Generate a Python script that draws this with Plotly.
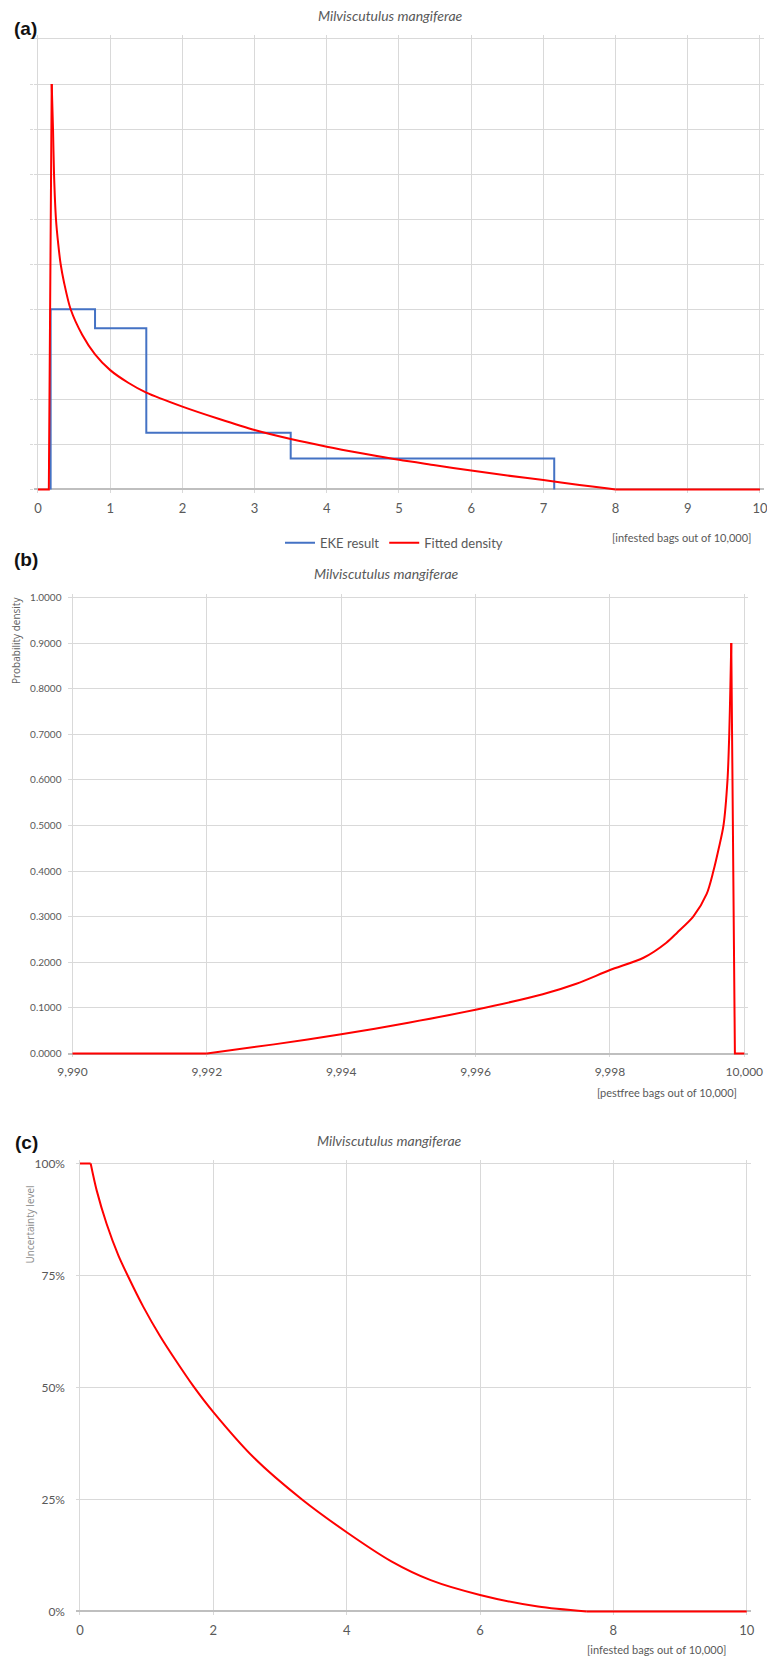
import plotly.graph_objects as go

# ---------------- data ----------------
# (a) fitted density vs infested bags out of 10,000
dens_x = [0, 0.15, 0.19, 0.208, 0.222, 0.249, 0.28, 0.314, 0.36, 0.452, 0.614, 0.79, 1.0,
          1.25, 1.5, 2.0, 2.5, 3.0, 3.5, 4.0, 4.5, 5.0, 5.5, 6.0, 6.5, 7.0, 7.5, 7.9, 8.0, 10]
dens_y = [0, 0, 0.90, 0.80, 0.70, 0.60, 0.545, 0.50, 0.46, 0.40, 0.343, 0.30, 0.265,
          0.237, 0.215, 0.184, 0.157, 0.132, 0.112, 0.095, 0.080, 0.066, 0.054, 0.042, 0.031,
          0.021, 0.010, 0.002, 0, 0]

# (a) EKE result: piecewise-uniform density between elicited quantiles
eke_edges = [0.175, 0.79, 1.5, 3.5, 7.15]
eke_dens = [0.40, 0.358, 0.126, 0.069]

# (b) fitted density vs pestfree bags out of 10,000
pf_x = [9990, 9992, 9993, 9994, 9995, 9996, 9997, 9997.5, 9998, 9998.5, 9998.84, 9999.0,
        9999.24, 9999.44, 9999.54, 9999.62, 9999.69, 9999.75, 9999.776, 9999.792, 9999.806,
        9999.86, 10000]
pf_y = [0, 0, 0.020, 0.042, 0.0675, 0.096, 0.130, 0.153, 0.183, 0.210, 0.243, 0.265,
        0.300, 0.350, 0.400, 0.450, 0.500, 0.600, 0.700, 0.800, 0.900,
        0, 0]

# (c) uncertainty level (exceedance) vs infested bags out of 10,000
unc_x = [0, 0.16, 0.25, 0.40, 0.575, 0.715, 0.95, 1.2, 1.425, 1.70, 2.0, 2.61, 3.33,
         4.0, 4.67, 5.26, 6.0, 6.87, 7.6, 10]
unc_y = [1.0, 1.0, 0.94, 0.865, 0.795, 0.75, 0.68, 0.615, 0.563, 0.503, 0.445, 0.343, 0.25,
         0.177, 0.112, 0.070, 0.037, 0.011, 0.0, 0.0]

title_text = "Milviscutulus mangiferae"
pct_vals = [0, 0.25, 0.5, 0.75, 1.0]
pct_text = ["0%", "25%", "50%", "75%", "100%"]

# ---------------- layout helpers ----------------
W, H = 767, 1656
GRID = "#D9D9D9"
AXL = "#BFBFBF"
TXT = "#595959"
BLUE = "#4472C4"
RED = "#FF0000"
FONT = "Lato"


def xdom(p0, p1, v0, v1, pad):
    s = (p1 - p0) / (v1 - v0)
    return [(p0 - pad * s) / W, (p1 + pad * s) / W], [v0 - pad, v1 + pad]


def ydom(pbot, ptop, v0, v1, pad):
    s = (pbot - ptop) / (v1 - v0)
    return [1 - (pbot + pad * s) / H, 1 - (ptop - pad * s) / H], [v0 - pad, v1 + pad]


fig = go.Figure()


def red_pieces(xs, ys, i0, i1, xa, ya, name, legend):
    """Straight segments before i0 and after i1, smooth curve between."""
    fig.add_trace(go.Scatter(x=xs[:i0 + 1], y=ys[:i0 + 1], mode="lines",
                             line=dict(color=RED, width=2), name=name, legendgroup=name,
                             xaxis=xa, yaxis=ya, showlegend=False))
    fig.add_trace(go.Scatter(x=xs[i0:i1 + 1], y=ys[i0:i1 + 1], mode="lines",
                             line=dict(color=RED, width=2, shape="spline", smoothing=0.8),
                             name=name, legendgroup=name,
                             xaxis=xa, yaxis=ya, showlegend=legend))
    fig.add_trace(go.Scatter(x=xs[i1:], y=ys[i1:], mode="lines",
                             line=dict(color=RED, width=2), name=name, legendgroup=name,
                             xaxis=xa, yaxis=ya, showlegend=False))


# traces (a)
fig.add_trace(go.Scatter(
    x=[eke_edges[0]] + eke_edges, y=[0] + eke_dens + [0],
    mode="lines", line=dict(color=BLUE, width=2, shape="hv"),
    name="EKE result", xaxis="x", yaxis="y", showlegend=True))
red_pieces(dens_x, dens_y, 2, len(dens_x) - 2, "x", "y", "Fitted density", True)
# trace (b)
red_pieces(pf_x, pf_y, 1, len(pf_x) - 3, "x2", "y2", "Fitted density (b)", False)
# trace (c)
red_pieces(unc_x, unc_y, 1, len(unc_x) - 2, "x3", "y3", "Uncertainty", False)

ax_common = dict(showgrid=True, gridcolor=GRID, gridwidth=1, zeroline=False,
                 automargin=False, ticklabeloverflow="allow",
                 tickfont=dict(family=FONT, size=12, color=TXT), fixedrange=True)

xa_dom, xa_rng = xdom(38, 760, 0, 10, 0.06)
ya_dom, ya_rng = ydom(489.5, 39, 0, 1, 0.008)
xb_dom, xb_rng = xdom(72.5, 744.3, 9990, 10000, 0.06)
yb_dom, yb_rng = ydom(1053.5, 597.5, 0, 1, 0.008)
xc_dom, xc_rng = xdom(80, 746.7, 0, 10, 0.06)
yc_dom, yc_rng = ydom(1611.5, 1163.5, 0, 1, 0.008)

fig.update_layout(
    width=W, height=H, autosize=False,
    margin=dict(l=0, r=0, t=0, b=0, pad=0, autoexpand=False),
    paper_bgcolor="white", plot_bgcolor="white",
    font=dict(family=FONT, color=TXT),
    xaxis=dict(ax_common, domain=xa_dom, range=xa_rng, anchor="y",
               tickmode="array", tickvals=list(range(0, 11)), ticks="",
               ticklabelstandoff=6, tickfont=dict(family=FONT, size=13, color=TXT)),
    yaxis=dict(ax_common, domain=ya_dom, range=ya_rng, anchor="x",
               tickmode="linear", tick0=0, dtick=0.1, showticklabels=False,
               ticks="outside", ticklen=3, tickcolor=GRID,
               zeroline=True, zerolinecolor=AXL, zerolinewidth=1.5),
    xaxis2=dict(ax_common, domain=xb_dom, range=xb_rng, anchor="y2",
                tickmode="array", tickvals=[9990, 9992, 9994, 9996, 9998, 10000],
                tickformat=",d", ticks="", ticklabelstandoff=6),
    yaxis2=dict(ax_common, domain=yb_dom, range=yb_rng, anchor="x2",
                tickmode="linear", tick0=0, dtick=0.1, tickformat=".4f", ticks="",
                ticklabelstandoff=6, tickfont=dict(family=FONT, size=10, color=TXT),
                zeroline=True, zerolinecolor=AXL, zerolinewidth=1.5),
    xaxis3=dict(ax_common, domain=xc_dom, range=xc_rng, anchor="y3",
                tickmode="array", tickvals=[0, 2, 4, 6, 8, 10], ticks="",
                ticklabelstandoff=6, tickfont=dict(family=FONT, size=13, color=TXT)),
    yaxis3=dict(ax_common, domain=yc_dom, range=yc_rng, anchor="x3",
                tickmode="array", tickvals=pct_vals, ticktext=pct_text, ticks="",
                ticklabelstandoff=10,
                zeroline=True, zerolinecolor=AXL, zerolinewidth=1.5),
    legend=dict(orientation="h", x=394 / W, xanchor="center", y=1 - 542.7 / H,
                yanchor="middle", font=dict(family=FONT, size=13, color=TXT),
                bgcolor="rgba(0,0,0,0)", itemwidth=30, tracegroupgap=0,
                traceorder="normal"),
    showlegend=True,
)


def ann(text, px, py, size, color=TXT, xanchor="center", italic=False, bold=False,
        angle=0, family=FONT):
    t = text
    if bold:
        t = "<b>" + t + "</b>"
    if italic:
        t = "<i>" + t + "</i>"
    fig.add_annotation(text=t, x=px / W, y=1 - py / H, xref="paper", yref="paper",
                       xanchor=xanchor, yanchor="middle", showarrow=False,
                       textangle=angle,
                       font=dict(family=family, size=size, color=color))


# panel letters
ann("(a)", 25, 28.5, 19, color="#111111", bold=True, family="Liberation Sans")
ann("(b)", 26, 560, 19, color="#111111", bold=True, family="Liberation Sans")
ann("(c)", 26, 1142, 19, color="#111111", bold=True, family="Liberation Sans")

# titles
ann(title_text, 391, 15, 14, italic=True)
ann(title_text, 387, 573, 14, italic=True)
ann(title_text, 389, 1140, 14, italic=True)

# axis unit captions
ann("[infested bags out of 10,000]", 753, 537, 11, xanchor="right")
ann("[pestfree bags out of 10,000]", 739, 1092, 11, xanchor="right")
ann("[infested bags out of 10,000]", 728, 1649, 11, xanchor="right")

# y-axis titles
ann("Probability density", 16, 641, 10, color="#606060", angle=-90, family="Open Sans")
ann("Uncertainty level", 29.5, 1225, 10, color="#8A8A8A", angle=-90, family="Open Sans")

fig.write_html(
    "out.html",
    config={"displayModeBar": False},
    post_script="document.body.style.margin='0';document.body.style.padding='0';"
                "document.documentElement.style.overflow='hidden';",
)
